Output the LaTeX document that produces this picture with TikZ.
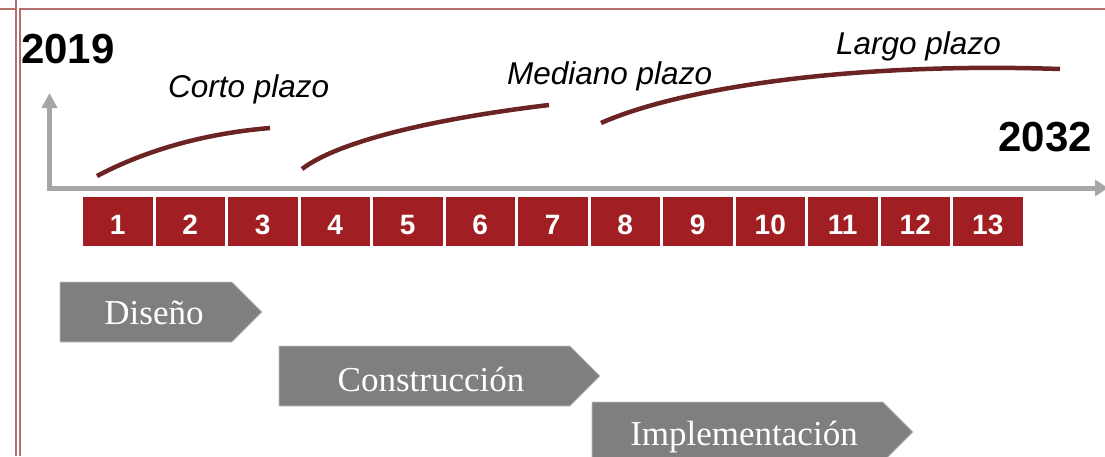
\documentclass[tikz,border=0pt]{standalone}
\usepackage{fontspec}
\usetikzlibrary{arrows.meta, positioning, calc}
\setmainfont{Liberation Serif}
\newfontfamily\sansfont{Liberation Sans}
\definecolor{color1}{RGB}{161,31,34}
\definecolor{color2}{RGB}{107,35,35}
\definecolor{color3}{RGB}{166,166,166}
\definecolor{color4}{RGB}{127,127,127}
\definecolor{color5}{RGB}{180,110,110}

\begin{document}
\begin{tikzpicture}[x=1pt,y=-1pt,
		marco/.style={color5,line width=2pt},
		eje/.style={color3,line width=5pt,{Triangle[width=15pt,length=15pt]}-{Triangle[width=16pt,length=13pt]}},
		plazo/.style={color2,line width=4.5pt},
		anio/.style={font=\sansfont\bfseries\fontsize{42}{46}\selectfont,inner sep=0pt},
		etiqueta/.style={font=\sansfont\itshape\fontsize{31.5}{36}\selectfont,inner sep=0pt,anchor=base west},
		celda/.style={fill=color1,minimum width=69.5pt,minimum height=49pt,inner sep=0pt,text=white,text height=25pt,text depth=0pt,font=\sansfont\bfseries\fontsize{28}{32}\selectfont},
		fase/.style={fill=color4,draw=color3!70,line width=0.8pt},
		fasetexto/.style={font=\fontsize{35}{40}\selectfont,text=white,inner sep=0pt,anchor=base}]
		\useasboundingbox (0,0) rectangle (1105,456);
		
		\draw[marco] (0,8.5) -- (16,8.5);
		\draw[marco] (16,0) -- (16,456);
		\draw[marco] (19.5,456) -- (19.5,8.5) -- (1105,8.5);
		
		\coordinate (arriba) at (49.5,93);
		\coordinate (origen) at (49.5,188);
		\coordinate (derecha) at (1108,188);
		\draw[eje] (arriba) -- (origen) -- (derecha);
		
		\node[anio] (inicio) at (68,49) {2019};
		\node[anio] (fin) at (1045,137) {2032};
		
		\node[etiqueta] (corto) at (168,97) {Corto plazo};
		\node[etiqueta] (mediano) at (507,84) {Mediano plazo};
		\node[etiqueta] (largo) at (836,54) {Largo plazo};
		
		\draw[plazo] (97,176) .. controls (150,148) and (210,133) .. (270,128);
		\draw[plazo] (302,169) .. controls (340,140) and (440,118) .. (549,105);
		\draw[plazo] (601,123) .. controls (680,88) and (850,62) .. (1060,69);
		
		\foreach \i in {1,...,13}
			\node[celda] (c\i) at ({117.75+72.5*(\i-1)},221.5) {\i};
		
		\filldraw[fase] (60,282) -- (232,282) -- (262,312) -- (232,342) -- (60,342) -- cycle;
		\node[fasetexto] (diseno) at (154,324) {Diseño};
		\filldraw[fase] (279,346) -- (570,346) -- (600,376) -- (570,406) -- (279,406) -- cycle;
		\node[fasetexto] (construccion) at (431,391) {Construcción};
		\filldraw[fase] (592,402) -- (883,402) -- (913,432) -- (883,462) -- (592,462) -- cycle;
		\node[fasetexto] (implementacion) at (744,445) {Implementación};
		
\end{tikzpicture}
\end{document}
